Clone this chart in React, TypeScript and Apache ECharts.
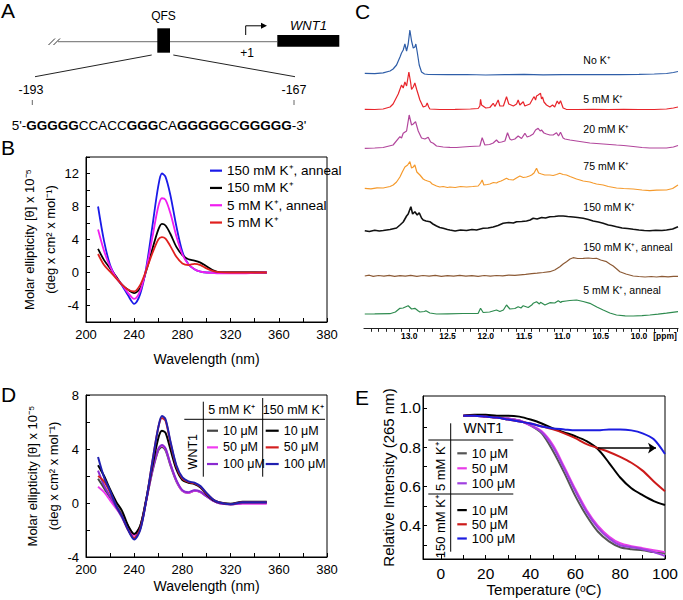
import React, { useEffect, useRef } from "react";
import * as echarts from "echarts";

const F = "'Liberation Sans', Arial, Helvetica, sans-serif";

// ---------- Panel B : CD spectra ----------
const bWave = [210,215,220,225,230,235,240,245,250,255,260,263,266,270,275,280,285,290,295,300,305,310,320,330,340,350];
const bK150Anneal = [8.0,3.8,0.9,-0.6,-1.6,-2.8,-3.8,-2.6,0.6,5.5,10.5,12.0,11.6,9.4,5.6,2.5,1.0,0.4,0.1,0.0,0.0,0.0,0.0,0.0,0.0,0.0];
const bK150 = [2.86,1.5,0.5,-0.5,-1.5,-2.1,-2.5,-1.9,0.2,2.8,5.2,5.9,5.7,4.7,3.1,2.1,1.6,1.45,1.2,0.75,0.3,0.05,0.0,0.0,0.0,0.0];
const bK5Anneal = [5.2,2.6,0.7,-0.6,-1.5,-2.5,-3.2,-2.2,0.4,4.2,8.0,9.0,8.8,7.2,4.4,2.2,1.0,0.4,0.1,0.0,-0.05,-0.1,-0.1,-0.1,-0.05,0.0];
const bK5 = [2.24,0.9,0.1,-0.7,-1.5,-2.1,-2.3,-1.5,0.3,2.3,4.0,4.3,4.1,3.2,1.9,1.1,0.9,1.05,0.9,0.5,0.2,0.05,0.0,0.0,0.0,0.0];
const bNames = ["150 mM K⁺, anneal", "150 mM K⁺", "5 mM K⁺, anneal", "5 mM K⁺"];
const bColors = ["#1a1ae8", "#000000", "#f01ef0", "#e0201e"];

const cdXTickVals = [200,240,280,320,360,400];
const cdXTickLabels = ["200","240","280","320","360","380"];
const cdXMinor = [200,220,240,260,280,300,320,340,360,380,400];
const bYLabels = [-4,0,4,8,12];
const bYTicks = [-6,-4,-2,0,2,4,6,8,10,12,14];

// ---------- Panel D : CD, concentration ----------
const dWave = bWave;
const d5_10 = [1.8,1.1,0.4,-0.2,-0.9,-1.7,-2.3,-1.7,0.2,2.3,3.9,4.15,3.9,2.8,1.6,0.9,0.75,0.9,0.8,0.5,0.2,0.0,-0.1,0.0,0.0,0.0];
const d5_50 = [1.2,0.8,0.2,-0.4,-1.0,-1.9,-2.4,-1.8,0.2,2.4,4.0,4.25,4.0,2.9,1.65,0.9,0.75,0.9,0.8,0.5,0.2,0.0,-0.1,-0.05,-0.05,-0.05];
const d5_100 = [2.4,1.3,0.5,-0.3,-1.1,-2.0,-2.6,-1.9,0.2,2.4,4.0,4.3,4.05,2.9,1.7,0.95,0.8,0.95,0.85,0.5,0.2,0.0,-0.1,0.0,0.0,0.0];
const d150_10 = [2.8,2.0,1.0,0.1,-0.6,-1.7,-2.3,-1.7,0.3,2.7,4.8,5.35,5.2,4.0,2.5,1.7,1.5,1.4,1.15,0.65,0.25,0.05,-0.05,0.1,0.1,0.1];
const d150_50 = [2.0,1.6,0.8,-0.2,-1.0,-2.0,-2.6,-1.9,0.2,3.0,5.6,6.3,6.1,4.5,2.7,1.8,1.55,1.45,1.2,0.7,0.3,0.05,-0.1,0.05,0.05,0.05];
const d150_100 = [3.4,1.9,0.9,-0.2,-1.0,-2.0,-2.7,-2.0,0.2,3.0,5.6,6.45,6.2,4.6,2.8,1.9,1.6,1.5,1.25,0.75,0.3,0.05,-0.1,0.05,0.05,0.05];
const dNames5 = ["D5|10 μM", "D5|50 μM", "D5|100 μM"];
const dNames150 = ["D150|10 μM", "D150|50 μM", "D150|100 μM"];
const dColors5 = ["#444444", "#f03cf0", "#8a2ad0"];
const dColors150 = ["#000000", "#d42020", "#2020b0"];
const dYLabels = [-4,0,4,8];
const dYTicks = [-4,-2,0,2,4,6,8];

// ---------- Panel E : melting ----------
const eTemp = [10,15,20,25,30,35,40,45,50,55,60,65,70,75,80,85,90,95,100];
const e5_10 = [0.96,0.96,0.955,0.95,0.945,0.935,0.91,0.87,0.78,0.67,0.55,0.45,0.37,0.32,0.29,0.28,0.275,0.265,0.26];
const e5_50 = [0.96,0.96,0.955,0.95,0.945,0.935,0.91,0.88,0.81,0.70,0.585,0.48,0.40,0.345,0.31,0.295,0.285,0.275,0.265];
const e5_100 = [0.96,0.96,0.955,0.95,0.945,0.935,0.91,0.875,0.80,0.69,0.575,0.47,0.39,0.335,0.30,0.29,0.28,0.265,0.245];
const e150_10 = [0.96,0.965,0.965,0.96,0.96,0.955,0.94,0.92,0.895,0.875,0.855,0.83,0.79,0.72,0.645,0.59,0.555,0.525,0.505];
const e150_50 = [0.96,0.96,0.955,0.95,0.94,0.93,0.92,0.905,0.89,0.87,0.845,0.815,0.795,0.775,0.75,0.72,0.68,0.625,0.575];
const e150_100 = [0.96,0.96,0.955,0.95,0.94,0.93,0.92,0.905,0.895,0.89,0.885,0.885,0.885,0.89,0.89,0.885,0.87,0.84,0.765];
const eNames5 = ["E5|10 μM", "E5|50 μM", "E5|100 μM"];
const eNames150 = ["E150|10 μM", "E150|50 μM", "E150|100 μM"];
const eColors5 = ["#555555", "#e83ce8", "#a040e0"];
const eColors150 = ["#000000", "#cc1a1a", "#1c1ce0"];
const eXLabels = [0,20,40,60,80,100];
const eXTicks = [0,10,20,30,40,50,60,70,80,90,100];
const eYLabels = [0.4,0.6,0.8,1.0];
const eYTicks = [0.3,0.4,0.5,0.6,0.7,0.8,0.9,1.0];
const eArrowFrom = [70, 0.795];
const eArrowTo = [96, 0.795];

// ---------- Panel C : 1H NMR imino region ----------
const cNoK = [[13.58,3.7],[13.45,3.3],[13.34,4.2],[13.25,6],[13.21,8],[13.165,12],[13.12,20],[13.10,24],[13.078,27],[13.056,33],[13.034,26],[13.013,33],[12.991,47],[12.969,36],[12.947,29],[12.926,30],[12.913,33],[12.895,25],[12.869,12],[12.839,5],[12.80,3],[12.75,2.5],[12.5,2.3],[12.25,2.5],[12.0,2],[11.75,2.4],[11.5,2.6],[11.25,2.2],[11.0,2.4],[10.75,2.3],[10.5,2.5],[10.25,2.4],[10.0,2.6],[9.8,3],[9.64,3.5],[9.55,4.5],[9.49,5.5]];
const c5mM = [[13.58,2.7],[13.45,2.5],[13.34,3],[13.25,5],[13.21,8],[13.143,18],[13.10,27],[13.078,24],[13.056,30],[13.034,26],[13.004,40],[12.982,30],[12.969,22.7],[12.947,25],[12.926,29],[12.90,22],[12.86,12],[12.817,5],[12.782,6],[12.765,9],[12.745,5],[12.73,3],[12.6,2.5],[12.4,2.7],[12.2,3],[12.1,3.5],[12.077,6],[12.068,12.7],[12.055,7],[12.0,4],[11.947,4.5],[11.903,8.7],[11.88,5.5],[11.838,12],[11.816,6],[11.77,6],[11.729,15.3],[11.70,8],[11.64,6],[11.598,8],[11.577,12],[11.555,7],[11.511,10.3],[11.49,6],[11.424,8],[11.381,14],[11.368,15.3],[11.35,12],[11.337,16],[11.316,17],[11.285,18.7],[11.272,13],[11.259,15],[11.24,10],[11.207,7],[11.163,5],[11.128,7],[11.10,5],[11.067,11],[11.045,8],[11.024,11.3],[10.99,4],[10.95,2.7],[10.8,2.5],[10.6,2.7],[10.4,2.5],[10.2,2.6],[10.0,2.5],[9.8,2.5],[9.64,3],[9.55,4],[9.49,5]];
const c20mM = [[13.58,2.7],[13.45,3],[13.34,3.5],[13.21,6],[13.121,14.3],[13.10,13],[13.078,17.7],[13.034,20],[13.0,36],[12.969,26],[12.947,27],[12.917,29.3],[12.882,20],[12.839,13],[12.795,12],[12.752,13.7],[12.72,9],[12.686,7.7],[12.643,5],[12.556,4],[12.469,3.7],[12.382,3.5],[12.30,4],[12.208,4.5],[12.077,5],[12.047,13.3],[12.012,6],[11.95,6.5],[11.903,8],[11.86,11],[11.83,8.5],[11.794,9],[11.75,10],[11.716,18.3],[11.685,12],[11.664,11],[11.62,12],[11.577,15],[11.533,12.5],[11.489,17.7],[11.46,14],[11.424,15],[11.381,17],[11.35,21],[11.316,22.7],[11.29,20],[11.272,21],[11.24,18],[11.207,17],[11.163,16],[11.12,16],[11.076,18.3],[11.05,15],[11.024,18.7],[10.99,13],[10.967,12],[10.90,11],[10.815,10],[10.728,9],[10.641,8],[10.554,7.5],[10.467,7],[10.38,6.5],[10.293,6],[10.2,5.5],[10.075,4.5],[9.96,3.5],[9.858,3],[9.75,3],[9.64,3],[9.55,4],[9.49,5.5]];
const c75mM = [[13.58,3.7],[13.5,3.2],[13.42,4.2],[13.34,4],[13.25,5.5],[13.209,7],[13.165,10],[13.121,15],[13.09,20],[13.056,25],[13.02,27],[12.991,30.3],[12.969,24],[12.947,25],[12.926,27],[12.90,20],[12.86,17],[12.817,13],[12.795,12],[12.76,11],[12.73,10.3],[12.70,8],[12.643,6],[12.60,5],[12.556,5.5],[12.50,4.5],[12.469,5],[12.40,4.5],[12.33,5.5],[12.251,5],[12.17,5.5],[12.099,6],[12.068,9],[12.047,12],[12.025,7],[11.98,7.5],[11.947,8],[11.90,9.5],[11.86,9],[11.838,10],[11.80,11],[11.773,12],[11.729,13.7],[11.70,12.5],[11.642,12],[11.60,14],[11.555,16],[11.51,14.5],[11.468,15],[11.43,16],[11.402,17],[11.37,19],[11.337,23.7],[11.31,19],[11.272,18],[11.23,17],[11.163,17],[11.12,16.5],[11.076,17.5],[11.033,18.7],[10.99,17.5],[10.946,17],[10.90,15.5],[10.815,13],[10.77,12],[10.728,11],[10.641,10],[10.60,9],[10.554,8],[10.467,7],[10.40,5.5],[10.293,4],[10.20,3.5],[10.075,3],[9.96,2],[9.858,1.3],[9.77,1.8],[9.64,2],[9.56,3.5],[9.49,7]];
const c150mM = [[13.58,3.3],[13.52,2.5],[13.45,3.8],[13.39,3],[13.339,3.5],[13.25,4.5],[13.165,6],[13.12,9],[13.078,12],[13.034,18],[13.013,20],[12.978,27.3],[12.955,20],[12.926,22.3],[12.895,19],[12.869,21.3],[12.839,16],[12.817,14],[12.78,13],[12.73,12.3],[12.69,10],[12.643,8],[12.60,6.5],[12.556,5.7],[12.50,4.5],[12.469,4],[12.40,3],[12.33,4],[12.251,3.5],[12.18,4.5],[12.12,4],[12.034,5.7],[11.97,6],[11.903,7],[11.84,8.5],[11.773,10.7],[11.70,11.5],[11.64,11],[11.598,12.3],[11.53,12.5],[11.468,13],[11.42,14],[11.381,15.7],[11.33,15],[11.27,16.5],[11.22,16],[11.163,17.3],[11.10,17.5],[11.05,18],[10.989,18],[10.93,17.5],[10.859,17],[10.80,16.5],[10.728,15.7],[10.66,14.5],[10.598,13],[10.53,12],[10.467,10.7],[10.40,9],[10.36,8.5],[10.293,7.3],[10.22,6],[10.15,5.5],[10.075,4.7],[10.0,4],[9.93,3.5],[9.858,3.3],[9.78,3.8],[9.70,3.5],[9.64,4],[9.56,5],[9.49,7.3]];
const c150Anneal = [[13.58,3],[13.52,3.8],[13.47,2.6],[13.40,3.5],[13.33,2.8],[13.26,3.6],[13.19,2.7],[13.12,3.4],[13.05,2.8],[12.98,3.6],[12.90,2.7],[12.82,3.5],[12.74,2.9],[12.66,3.6],[12.58,2.7],[12.50,3.4],[12.42,2.8],[12.34,3.6],[12.26,2.8],[12.18,3.4],[12.10,2.7],[12.02,3.5],[11.94,2.8],[11.86,3.5],[11.78,3.2],[11.70,3.9],[11.62,3.6],[11.55,4.2],[11.48,4.6],[11.40,5.3],[11.33,5.8],[11.25,6.5],[11.163,7.3],[11.10,9],[11.033,12.3],[10.99,15],[10.946,17.3],[10.90,20],[10.859,21.3],[10.80,20.5],[10.728,20.7],[10.66,21],[10.60,20.5],[10.554,20.7],[10.50,19],[10.423,17.3],[10.38,15],[10.336,13],[10.29,10],[10.249,7.3],[10.17,5],[10.075,3],[10.0,2.5],[9.92,2],[9.84,2.5],[9.77,2],[9.70,2.6],[9.62,2.2],[9.55,2.6],[9.49,2.7]];
const c5Anneal = [[13.58,3],[13.45,3.1],[13.252,3.3],[13.18,5],[13.121,8.7],[13.08,9],[13.013,11.3],[12.969,8],[12.926,8.7],[12.88,6],[12.86,5],[12.80,5.5],[12.782,6.3],[12.73,4],[12.643,3],[12.50,3.2],[12.30,3.5],[12.099,3.7],[12.068,8.7],[12.034,4.5],[11.95,5],[11.86,7],[11.816,5.5],[11.77,7],[11.729,12],[11.685,8],[11.62,8.5],[11.577,10.3],[11.54,9],[11.511,11.3],[11.446,9.5],[11.40,12],[11.381,13.7],[11.337,15.3],[11.30,13],[11.285,14.7],[11.228,12],[11.163,14.3],[11.10,14],[11.054,16.3],[11.02,14.5],[11.011,15.3],[10.95,16],[10.902,16.5],[10.815,17],[10.728,15.5],[10.641,13.7],[10.55,10],[10.467,7],[10.38,4],[10.293,2],[10.18,1.2],[10.075,1],[9.96,1.4],[9.858,2],[9.75,2.8],[9.64,3.8],[9.49,5.3]];
const cTraces = [cNoK, c5mM, c20mM, c75mM, c150mM, c150Anneal, c5Anneal];
const cLabels = ["No K⁺", "5 mM K⁺", "20 mM K⁺", "75 mM K⁺", "150 mM K⁺", "150 mM K⁺, anneal", "5 mM K⁺, anneal"];
const cColors = ["#2f5ea8", "#e8252b", "#b2469c", "#f59a2c", "#111111", "#8c5a35", "#2e8b4f"];
const cPpmLabels = [13.0,12.5,12.0,11.5,11.0,10.5,10.0];
const cPpmTicks = [13.5,13.4,13.3,13.2,13.1,13.0,12.9,12.8,12.7,12.6,12.5,12.4,12.3,12.2,12.1,12.0,11.9,11.8,11.7,11.6,11.5,11.4,11.3,11.2,11.1,11.0,10.9,10.8,10.7,10.6,10.5,10.4,10.3,10.2,10.1,10.0,9.9,9.8,9.7,9.6,9.5];

// ---------- layout (pixels) ----------
const cBottoms = [77, 112, 151, 192, 234, 279, 317];
const cLabelY = [60, 99, 129.3, 166, 206.7, 246.7, 290];

const pair = (xs: number[], ys: number[]) => xs.map((x, i) => [x, ys[i]]);

function txt(x: number, y: number, text: string, size: number, align = "left", extra: any = {}) {
  const { rotation, vAlign, ...style } = extra;
  const va = vAlign || "middle";
  return {
    type: "text", x, y, rotation: rotation || 0, silent: true,
    style: { text, fontSize: size, fontFamily: F, fill: "#000", align, verticalAlign: va, textAlign: align, textVerticalAlign: va, ...style },
  };
}
function ln(x1: number, y1: number, x2: number, y2: number, stroke = "#000", w = 1) {
  return { type: "line", silent: true, shape: { x1, y1, x2, y2 }, style: { stroke, lineWidth: w } };
}

function cdXAxis(gridIndex: number, nameGap: number) {
  return {
    gridIndex, type: "value", min: 200, max: 400,
    axisLine: { show: true, onZero: false, lineStyle: { color: "#000", width: 1 } }, splitLine: { show: false },
    axisTick: { show: true, inside: true, length: 4, lineStyle: { color: "#000" }, customValues: cdXMinor },
    axisLabel: { color: "#000", fontSize: 13, fontFamily: F, margin: 6, customValues: cdXTickVals, formatter: (v: number) => cdXTickLabels[cdXTickVals.indexOf(v)] ?? "" },
    name: "Wavelength (nm)", nameLocation: "middle", nameGap,
    nameTextStyle: { color: "#000", fontSize: 14, fontFamily: F },
  };
}
function cdYAxis(gridIndex: number, min: number, max: number, labels: number[], ticks: number[]) {
  return {
    gridIndex, type: "value", min, max,
    axisLine: { show: true, onZero: false, lineStyle: { color: "#000", width: 1 } }, splitLine: { show: false },
    axisTick: { show: true, inside: true, length: 4, lineStyle: { color: "#000" }, customValues: ticks },
    axisLabel: { color: "#000", fontSize: 13, fontFamily: F, margin: 7, customValues: labels },
    name: "Molar ellipticity [θ] x 10⁻⁵\n(deg x cm² x mol⁻¹)", nameLocation: "middle", nameGap: 22,
    nameTextStyle: { color: "#000", fontSize: 13, fontFamily: F, lineHeight: 21 },
  };
}

const legendFmt = (name: string) => (name.includes("|") ? name.split("|")[1] : name);

function buildOption() {
  const grids: any[] = [
    { left: 86, top: 157, width: 241, height: 165 },
    { left: 86, top: 395, width: 241, height: 162 },
    { left: 423, top: 396, width: 242, height: 163 },
  ].map((g) => ({ ...g, show: true, borderColor: "#000", borderWidth: 1, backgroundColor: "transparent", containLabel: false, outerBoundsMode: "none" }));
  cBottoms.forEach((b) => grids.push({ left: 364, width: 314, top: b - 50, height: 50, show: false, containLabel: false, outerBoundsMode: "none" }));
  grids.push({ left: 364, width: 314, top: 300, height: 28.3, show: false, containLabel: false, outerBoundsMode: "none" });

  const xAxes: any[] = [cdXAxis(0, 30), cdXAxis(1, 22)];
  const yAxes: any[] = [cdYAxis(0, -6, 14, bYLabels, bYTicks), cdYAxis(1, -4, 8, dYLabels, dYTicks)];

  xAxes.push({
    gridIndex: 2, type: "value", min: -8, max: 100,
    axisLine: { show: true, onZero: false, lineStyle: { color: "#000" } }, splitLine: { show: false },
    axisTick: { show: true, inside: true, length: 4, lineStyle: { color: "#000" }, customValues: eXTicks },
    axisLabel: { color: "#000", fontSize: 15.5, fontFamily: F, margin: 6, customValues: eXLabels },
    name: "Temperature (ᵒC)", nameLocation: "middle", nameGap: 19,
    nameTextStyle: { color: "#000", fontSize: 15, fontFamily: F },
  });
  yAxes.push({
    gridIndex: 2, type: "value", min: 0.23, max: 1.06,
    axisLine: { show: true, onZero: false, lineStyle: { color: "#000" } }, splitLine: { show: false },
    axisTick: { show: true, inside: true, length: 4, lineStyle: { color: "#000" }, customValues: eYTicks },
    axisLabel: { color: "#000", fontSize: 15.5, fontFamily: F, margin: 2, customValues: eYLabels, formatter: (v: number) => v.toFixed(1) },
    name: "Relative Intensity (265 nm)", nameLocation: "middle", nameGap: 23,
    nameTextStyle: { color: "#000", fontSize: 15, fontFamily: F },
  });

  cBottoms.forEach((_, i) => {
    xAxes.push({ gridIndex: 3 + i, type: "value", min: 9.49, max: 13.59, inverse: true, show: false });
    yAxes.push({ gridIndex: 3 + i, type: "value", min: 0, max: 50, show: false });
  });
  xAxes.push({
    gridIndex: 10, type: "value", min: 9.49, max: 13.59, inverse: true, position: "bottom",
    axisLine: { show: true, onZero: false, lineStyle: { color: "#222", width: 1.2 } }, splitLine: { show: false },
    axisTick: { show: true, inside: false, length: 3.5, lineStyle: { color: "#222" }, customValues: cPpmTicks },
    axisLabel: { color: "#000", fontSize: 8.5, fontWeight: "bold", fontFamily: F, margin: 3, customValues: cPpmLabels, formatter: (v: number) => v.toFixed(1) },
  });
  yAxes.push({ gridIndex: 10, type: "value", min: 0, max: 1, show: false });

  const line = (name: string, data: any[], color: string, xi: number, width = 1.8, extra: any = {}) => ({
    type: "line", name, data, xAxisIndex: xi, yAxisIndex: xi, symbol: "none", smooth: false,
    lineStyle: { color, width }, itemStyle: { color }, silent: true, ...extra,
  });

  const series: any[] = [];
  const bSeries = [bK150Anneal, bK150, bK5Anneal, bK5];
  bSeries.forEach((ys, i) => series.push(line(bNames[i], pair(bWave, ys), bColors[i], 0, 1.8, { smooth: 0.3 })));

  const d5 = [d5_10, d5_50, d5_100];
  const d150 = [d150_10, d150_50, d150_100];
  d5.forEach((ys, i) => series.push(line(dNames5[i], pair(dWave, ys), dColors5[i], 1, 2, { smooth: 0.3 })));
  d150.forEach((ys, i) => series.push(line(dNames150[i], pair(dWave, ys), dColors150[i], 1, 2, { smooth: 0.3 })));

  const e5 = [e5_10, e5_50, e5_100];
  const e150 = [e150_10, e150_50, e150_100];
  e5.forEach((ys, i) => series.push(line(eNames5[i], pair(eTemp, ys), eColors5[i], 2, 2, { smooth: 0.3 })));
  e150.forEach((ys, i) => {
    const extra: any = { smooth: 0.3 };
    if (i === 0) {
      extra.markLine = {
        silent: true, symbol: ["none", "arrow"], symbolSize: 8, animation: false,
        label: { show: false }, lineStyle: { color: "#000", width: 1.5, type: "solid" },
        data: [[{ coord: eArrowFrom }, { coord: eArrowTo }]],
      };
    }
    series.push(line(eNames150[i], pair(eTemp, ys), eColors150[i], 2, 2, extra));
  });

  cTraces.forEach((tr, i) => series.push(line("C|" + cLabels[i], tr, cColors[i], 3 + i, i === 4 ? 1.6 : 1.2)));

  const legBase = { orient: "vertical", padding: 0, itemGap: 0, formatter: legendFmt, selectedMode: false, icon: "rect", itemHeight: 2.2 };
  const legends = [
    { ...legBase, left: 210, top: 162, itemWidth: 12, data: bNames, textStyle: { fontSize: 13.5, fontFamily: F, color: "#000", lineHeight: 17.3 } },
    { ...legBase, left: 207, top: 422.4, itemWidth: 11, data: dNames5, textStyle: { fontSize: 12.5, fontFamily: F, color: "#000", lineHeight: 16.65 } },
    { ...legBase, left: 265.7, top: 422.4, itemWidth: 13, data: dNames150, textStyle: { fontSize: 12.5, fontFamily: F, color: "#000", lineHeight: 16.65 } },
    { ...legBase, left: 457.3, top: 445.8, itemWidth: 9.5, data: eNames5, textStyle: { fontSize: 13, fontFamily: F, color: "#000", lineHeight: 15 } },
    { ...legBase, left: 457.3, top: 503, itemWidth: 9.5, data: eNames150, textStyle: { fontSize: 13, fontFamily: F, color: "#000", lineHeight: 14.2 } },
  ];

  const R = Math.PI / 2;
  const graphics: any[] = [
    // panel letters
    txt(1, 10, "A", 21), txt(1, 147.5, "B", 21), txt(355, 11, "C", 21), txt(1, 394, "D", 21), txt(355, 397, "E", 21),
    // panel A: gene diagram
    ln(48.5, 45, 55, 38.5, "#333"), ln(53.5, 45, 60, 38.5, "#333"),
    ln(58, 41.7, 277, 41.7, "#888", 1.2),
    { type: "rect", silent: true, shape: { x: 157.3, y: 28.3, width: 12.7, height: 24.4 }, style: { fill: "#000" } },
    txt(163.5, 15.5, "QFS", 12, "center"),
    { type: "polyline", silent: true, shape: { points: [[245.7, 35], [245.7, 25.8], [262, 25.8]] }, style: { stroke: "#000", lineWidth: 1, fill: null } },
    { type: "polygon", silent: true, shape: { points: [[267, 25.8], [261, 22.8], [261, 28.8]] }, style: { fill: "#000" } },
    txt(247, 53, "+1", 12, "center"),
    { type: "rect", silent: true, shape: { x: 277.3, y: 35, width: 62, height: 11.7 }, style: { fill: "#000" } },
    txt(308.5, 25, "WNT1", 13, "center", { fontStyle: "italic" }),
    ln(151.7, 55, 35, 76.7, "#222"), ln(173.3, 55, 295, 76.7, "#222"),
    txt(31, 90, "-193", 12.5, "center"), txt(294, 90, "-167", 12.5, "center"),
    ln(32.3, 100, 32.3, 105, "#666"), ln(294, 100, 294, 105, "#666"),
    {
      type: "text", x: 11.7, y: 125, silent: true,
      style: {
        text: "{n|5'-}{b|GGGGG}{n|CCACC}{b|GGG}{n|CA}{b|GGGGG}{n|C}{b|GGGGG}{n|-3'}",
        fontSize: 13.5, fontFamily: F, fill: "#000", align: "left", verticalAlign: "middle", textAlign: "left", textVerticalAlign: "middle",
        rich: { n: { fontSize: 13.5, fontFamily: F, fill: "#000", color: "#000" }, b: { fontSize: 13.5, fontFamily: F, fontWeight: "bold", fill: "#000", color: "#000" } },
      },
    },
    // panel C labels
    ...cLabels.map((t, i) => txt(583.3, cLabelY[i], t, 10.5)),
    txt(665, 336, "[ppm]", 8.5, "center", { fontWeight: "bold" }),
    // panel D table
    ln(203.3, 401.7, 203.3, 476.7), ln(262.7, 398, 262.7, 476.7), ln(184.3, 419.3, 325, 419.3),
    txt(231.7, 410, "5 mM K⁺", 12.5, "center"), txt(293.3, 410, "150 mM K⁺", 12.5, "center"),
    txt(192.7, 451.7, "WNT1", 12.5, "center", { rotation: R }),
    // panel E table
    txt(483.3, 428.3, "WNT1", 14, "center"),
    ln(428.3, 440, 513.3, 440), ln(450.7, 423.3, 450.7, 551.7), ln(428.3, 494, 513.3, 494),
    txt(440, 466.7, "5 mM K⁺", 13, "center", { rotation: R }),
    txt(440, 526.7, "150 mM K⁺", 13, "center", { rotation: R }),
  ];

  return {
    animation: false,
    backgroundColor: "#fff",
    textStyle: { fontFamily: F },
    grid: grids,
    xAxis: xAxes,
    yAxis: yAxes,
    legend: legends,
    series,
    graphic: { elements: graphics },
  };
}

export default function App() {
  const ref = useRef<HTMLDivElement>(null);
  useEffect(() => {
    if (!ref.current) return;
    const chart = echarts.init(ref.current, null, { renderer: "svg" });
    chart.setOption(buildOption() as any);
    return () => chart.dispose();
  }, []);
  return <div ref={ref} style={{ position: "absolute", left: 0, top: 0, width: 683, height: 600, background: "#fff" }} />;
}
